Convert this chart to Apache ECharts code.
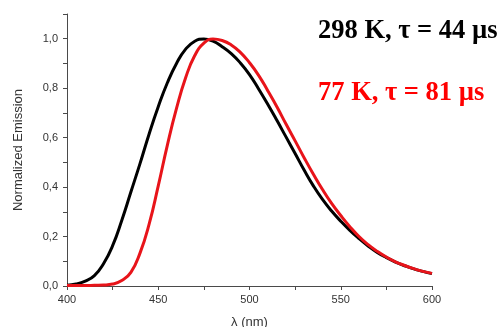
<!DOCTYPE html>
<html>
<head>
<meta charset="utf-8">
<script src="https://cdn.jsdelivr.net/npm/echarts@6/dist/echarts.min.js"></script>
<style>html,body{margin:0;padding:0;background:#fff;}#c{width:503px;height:327px;}</style>
</head>
<body>
<div id="c"></div>
<script>
var wavelengths = [400,405,410,415,420,425,430,435,440,445,450,455,460,465,470,475,480,485,490,495,500,505,510,515,520,525,530,535,540,545,550,555,560,565,570,575,580,585,590,595,600];
var emission298K = [0.003,0.008,0.02,0.042,0.09,0.163,0.265,0.38,0.495,0.615,0.725,0.822,0.9,0.958,0.99,0.999,0.99,0.968,0.94,0.902,0.855,0.797,0.735,0.67,0.603,0.536,0.468,0.405,0.35,0.303,0.262,0.225,0.192,0.162,0.136,0.115,0.097,0.082,0.069,0.059,0.05];
var emission77K = [0.002,0.002,0.002,0.003,0.004,0.008,0.022,0.055,0.133,0.25,0.405,0.57,0.718,0.842,0.932,0.982,0.999,0.993,0.975,0.945,0.903,0.852,0.79,0.725,0.655,0.587,0.518,0.452,0.39,0.334,0.285,0.24,0.2,0.167,0.14,0.117,0.098,0.083,0.07,0.059,0.051];
var seriesNames = ['298 K', '77 K'];
var annotations = ['298 K, \u03c4 = 44 \u00b5s', '77 K, \u03c4 = 81 \u00b5s'];
var xAxisTitle = '\u03bb (nm)';
var yAxisTitle = 'Normalized Emission';

function pairs(xs, ys) { return xs.map(function (x, i) { return [x, ys[i]]; }); }

var chart = echarts.init(document.getElementById('c'), null, { renderer: 'canvas' });
var axisColor = '#4a4a4a';
chart.setOption({
  animation: false,
  backgroundColor: '#fff',
  grid: { left: 67, right: 71, top: 14, bottom: 41, containLabel: false, outerBoundsMode: 'none' },
  xAxis: {
    type: 'value', min: 400, max: 600, interval: 25,
    name: xAxisTitle, nameLocation: 'middle', nameGap: 30,
    nameTextStyle: { fontFamily: 'Liberation Sans', fontSize: 13, color: '#333' },
    axisLine: { show: true, lineStyle: { color: axisColor, width: 1 } },
    axisTick: { show: true, inside: false, length: 4, lineStyle: { color: axisColor } },
    axisLabel: {
      margin: 8, fontFamily: 'Liberation Sans', fontSize: 11, color: '#333',
      formatter: function (v) { return (Math.round(v) % 50 === 0) ? String(Math.round(v)) : ''; }
    },
    splitLine: { show: false }
  },
  yAxis: {
    type: 'value', min: 0, max: 1.1, interval: 0.1,
    name: yAxisTitle, nameLocation: 'middle', nameGap: 42, nameRotate: 90,
    nameTextStyle: { fontFamily: 'Liberation Sans', fontSize: 13, color: '#333' },
    axisLine: { show: true, lineStyle: { color: axisColor, width: 1 } },
    axisTick: { show: true, inside: false, length: 4, lineStyle: { color: axisColor } },
    axisLabel: {
      margin: 9, fontFamily: 'Liberation Sans', fontSize: 11, color: '#333',
      formatter: function (v) {
        var k = Math.round(v * 10);
        return (k % 2 === 0 && k <= 10) ? (k / 10).toFixed(1).replace('.', ',') : '';
      }
    },
    splitLine: { show: false }
  },
  series: [
    { name: seriesNames[0], type: 'line', data: pairs(wavelengths, emission298K), smooth: 0.5, symbol: 'none',
      lineStyle: { color: '#000000', width: 3 }, z: 2 },
    { name: seriesNames[1], type: 'line', data: pairs(wavelengths, emission77K), smooth: 0.5, symbol: 'none',
      lineStyle: { color: '#e8141a', width: 3 }, z: 3 }
  ],
  graphic: [
    { type: 'text', left: 318, top: 18, z: 10,
      style: { text: annotations[0], fill: '#000', font: 'bold 26.5px "Liberation Serif", serif' } },
    { type: 'text', left: 318, top: 80, z: 10,
      style: { text: annotations[1], fill: '#ff0000', font: 'bold 26.5px "Liberation Serif", serif' } }
  ]
});
</script>
</body>
</html>
